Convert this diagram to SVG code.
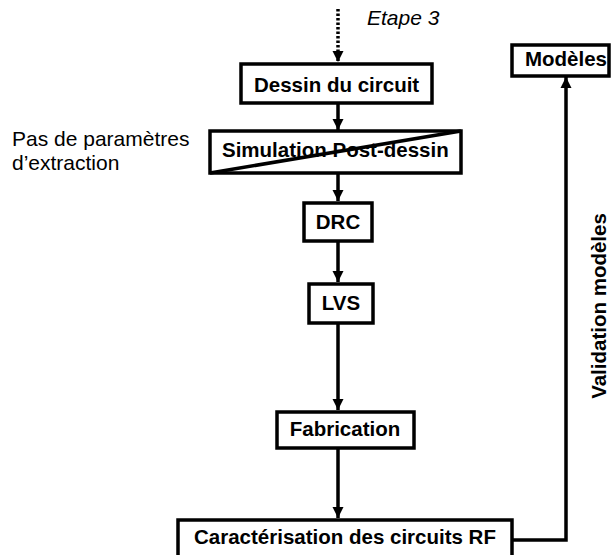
<svg xmlns="http://www.w3.org/2000/svg" width="611" height="555" viewBox="0 0 611 555">
<defs>
<style>
.box{fill:#fff;stroke:#000;stroke-width:3.5}
.lbl{font-family:"Liberation Sans",Arial,sans-serif;font-weight:bold;font-size:20.5px;fill:#000}
.note{font-family:"Liberation Sans",Arial,sans-serif;font-size:21px;fill:#000}
.con{fill:none;stroke:#000;stroke-width:3.5}
</style>
<marker id="ah" viewBox="0 0 10 10" refX="10" refY="5" markerWidth="3.2" markerHeight="3.2" orient="auto" markerUnits="strokeWidth">
<path d="M0,0 L10,5 L0,10 Z" fill="#000"/>
</marker>
</defs>
<rect width="611" height="555" fill="#fff"/>
<g id="connectors">
<line class="con" x1="338" y1="9" x2="338" y2="62" stroke-dasharray="2.5,2" marker-end="url(#ah)"/>
<line class="con" x1="338" y1="104" x2="338" y2="130" marker-end="url(#ah)"/>
<line class="con" x1="338" y1="174" x2="338" y2="201" marker-end="url(#ah)"/>
<line class="con" x1="338" y1="242" x2="338" y2="282" marker-end="url(#ah)"/>
<line class="con" x1="338" y1="324" x2="338" y2="410" marker-end="url(#ah)"/>
<line class="con" x1="338" y1="449" x2="338" y2="518" marker-end="url(#ah)"/>
<polyline class="con" points="513,540 566,540 566,77" marker-end="url(#ah)"/>
</g>
<g id="etape"><text class="note" x="367" y="25" font-style="italic">Etape 3</text></g>
<g id="note"><text class="note" x="12" y="146">Pas de paramètres</text><text class="note" x="12" y="170">d’extraction</text></g>
<g id="dessin"><rect class="box" x="241" y="64" width="191" height="39"/><text class="lbl" x="254" y="92">Dessin du circuit</text></g>
<g id="simulation"><rect class="box" x="210" y="131" width="251" height="42"/><text class="lbl" x="222" y="157">Simulation Post-dessin</text><line class="con" x1="210" y1="173" x2="461" y2="131" stroke-width="3"/></g>
<g id="drc"><rect class="box" x="304" y="203" width="68" height="38"/><text class="lbl" x="338" y="229" text-anchor="middle">DRC</text></g>
<g id="lvs"><rect class="box" x="309" y="284" width="64" height="39"/><text class="lbl" x="341" y="310" text-anchor="middle">LVS</text></g>
<g id="fabrication"><rect class="box" x="277" y="412" width="137" height="36"/><text class="lbl" x="345" y="436" text-anchor="middle">Fabrication</text></g>
<g id="caracterisation"><rect class="box" x="178" y="520" width="334" height="40"/><text class="lbl" x="345" y="544" text-anchor="middle">Caractérisation des circuits RF</text></g>
<g id="modeles"><rect class="box" x="512" y="45" width="97" height="31"/><text class="lbl" x="525" y="66" font-size="20">Modèles</text></g>
<g id="validation"><text class="lbl" font-size="20" transform="translate(606,306) rotate(-90)" text-anchor="middle">Validation modèles</text></g>
</svg>
